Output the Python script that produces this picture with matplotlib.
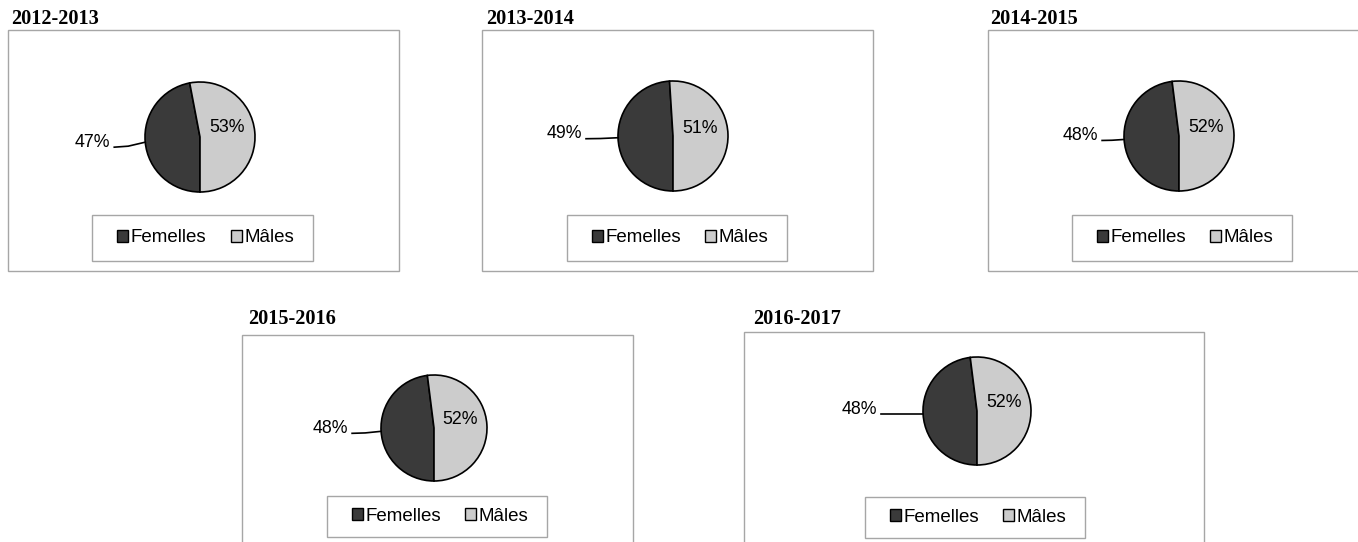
import numpy as np
import matplotlib
matplotlib.use("Agg")
import matplotlib.pyplot as plt
from matplotlib.patches import Rectangle, Patch

# data
years = ["2012-2013", "2013-2014", "2014-2015", "2015-2016", "2016-2017"]
categories = ["Femelles", "Mâles"]
femelles = [47, 49, 48, 48, 48]
males = [53, 51, 52, 52, 52]
colors = ["#3a3a3a", "#cccccc"]

W, H = 1358, 542

# layout in pixels: title (x, baseline), box (l, t, r, b), pie centre, radius,
# legend box (l, t, r, b), leader length, leader drop
layout = [
    dict(title=(11, 24), box=(8, 30, 399, 271), c=(200, 137), r=55,
         leg=(92, 215, 313, 261), lead=31, drop=5),
    dict(title=(486, 24), box=(482, 30, 873, 271), c=(673, 136), r=55,
         leg=(567, 215, 787, 261), lead=32, drop=1),
    dict(title=(990, 24), box=(988, 30, 1362, 271), c=(1179, 136), r=55,
         leg=(1072, 215, 1292, 261), lead=22, drop=1),
    dict(title=(248, 324), box=(242, 335, 633, 560), c=(434, 428), r=53,
         leg=(327, 496, 547, 537), lead=29, drop=2),
    dict(title=(753, 324), box=(744, 332, 1204, 560), c=(977, 411), r=54,
         leg=(865, 497, 1085, 538), lead=42, drop=0),
]


def fx(x):
    return x / W


def fy(y):
    return 1 - y / H


fig = plt.figure(figsize=(W / 100, H / 100), dpi=100)
fig.patch.set_facecolor("white")

for i, lay in enumerate(layout):
    vals = [femelles[i], males[i]]

    # boite du graphique
    l, t, r, b = lay["box"]
    fig.patches.append(Rectangle((fx(l), fy(b)), fx(r - l), (b - t) / H,
                                 transform=fig.transFigure, fill=False,
                                 edgecolor="#a6a6a6", linewidth=1.0))
    fig.text(fx(lay["title"][0]), fy(lay["title"][1]), years[i],
             family="Liberation Serif", fontweight="bold", fontsize=14.6,
             va="baseline", ha="left")

    cx, cy = lay["c"]
    rad = lay["r"]
    ax = fig.add_axes([fx(cx - rad), fy(cy + rad), 2 * rad / W, 2 * rad / H])
    wedges, _ = ax.pie(vals, colors=colors, startangle=-90, counterclock=False,
                       radius=1, wedgeprops=dict(edgecolor="black", linewidth=1.2))
    ax.set_xlim(-1, 1)
    ax.set_ylim(-1, 1)
    ax.set_aspect("equal")
    ax.axis("off")

    # etiquette exterieure (Femelles)
    w = wedges[0]
    mid = np.deg2rad((w.theta1 + w.theta2) / 2)
    ex, ey = np.cos(mid), np.sin(mid)
    L = lay["lead"] / rad
    d = lay["drop"] / rad
    ax.plot([ex, ex - L * 0.55, ex - L], [ey, ey - d * 0.8, ey - d],
            color="black", linewidth=1.2, clip_on=False)
    ax.text(ex - L - 4 / rad, ey - d + 0.5 / rad, f"{vals[0]}%", ha="right",
            va="baseline", fontsize=12.8, family="Liberation Sans")

    # etiquette interieure (Males)
    w = wedges[1]
    mid = np.deg2rad((w.theta1 + w.theta2) / 2)
    ax.text(0.5 * np.cos(mid), 0.5 * np.sin(mid) + 0.12, f"{vals[1]}%",
            ha="center", va="center", fontsize=12.8, family="Liberation Sans")

    # legende
    l, t, r, b = lay["leg"]
    fig.patches.append(Rectangle((fx(l), fy(b)), fx(r - l), (b - t) / H,
                                 transform=fig.transFigure, fill=False,
                                 edgecolor="#a6a6a6", linewidth=1.0))
    handles = [Patch(facecolor=colors[k], edgecolor="black", linewidth=1.0)
               for k in range(2)]
    ax.legend(handles, categories, loc="center", ncol=2, frameon=False,
              bbox_to_anchor=(fx((l + r) / 2 + 3), fy((t + b) / 2)),
              bbox_transform=fig.transFigure,
              prop=dict(family="Liberation Sans", size=13.5),
              handlelength=0.6, handleheight=0.6, handletextpad=0.12,
              columnspacing=1.3)

fig.savefig("out.png", dpi=100)
